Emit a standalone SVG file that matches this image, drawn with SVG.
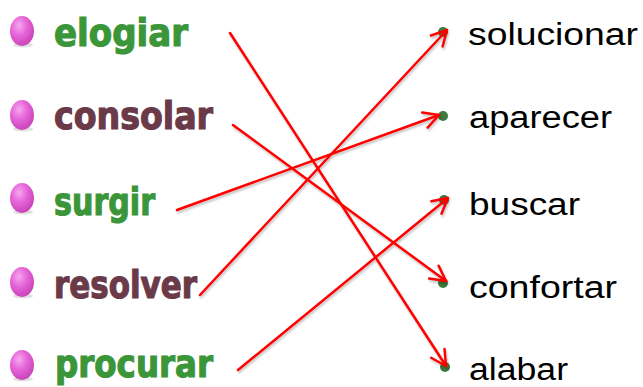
<svg xmlns="http://www.w3.org/2000/svg" width="643" height="387" viewBox="0 0 643 387">
  <defs>
    <radialGradient id="egg" cx="0.38" cy="0.32" r="0.75">
      <stop offset="0" stop-color="#f6a8ee"/>
      <stop offset="0.45" stop-color="#e565d8"/>
      <stop offset="1" stop-color="#c43fb4"/>
    </radialGradient>
    <marker id="arr" markerUnits="userSpaceOnUse" markerWidth="22" markerHeight="22" viewBox="0 0 22 22" refX="17" refY="11" orient="auto">
      <path d="M2,3 L17,11 L2,19" fill="none" stroke="#ff0000" stroke-width="2.5" stroke-linecap="round" stroke-linejoin="round"/>
    </marker>
    <filter id="sh" x="-10%" y="-10%" width="120%" height="120%">
      <feDropShadow dx="1" dy="2" stdDeviation="1.2" flood-color="#000" flood-opacity="0.25"/>
    </filter>
  </defs>
  <style>
    .egg { fill: url(#egg); }
    .eggsh { fill: #000; opacity: 0.12; }
    .lw { font-family: "DejaVu Sans", "Liberation Sans", sans-serif; font-weight: bold; font-size: 37px; stroke-width: 1.2px; }
    .g { fill: #3b963a; stroke: #3b963a; }
    .m { fill: #6b3a49; stroke: #6b3a49; }
    .rw { font-family: "Liberation Sans", Arial, sans-serif; font-size: 31px; fill: #000; }
    .dot { fill: #3d7a3c; }
    .ln { stroke: #ff0000; stroke-width: 2.5; fill: none; stroke-linecap: round; marker-end: url(#arr); }
  </style>
  <rect width="643" height="387" fill="#ffffff"/>

  <g id="left-elogiar">
    <ellipse class="eggsh" cx="23" cy="45" rx="10" ry="2.5"/>
    <ellipse class="egg" cx="22" cy="31" rx="12" ry="15"/>
    <text class="lw g" x="54" y="46" textLength="134" lengthAdjust="spacingAndGlyphs">elogiar</text>
  </g>
  <g id="left-consolar">
    <ellipse class="eggsh" cx="23" cy="129" rx="10" ry="2.5"/>
    <ellipse class="egg" cx="22" cy="115" rx="12" ry="15"/>
    <text class="lw m" x="54" y="129" textLength="159" lengthAdjust="spacingAndGlyphs">consolar</text>
  </g>
  <g id="left-surgir">
    <ellipse class="eggsh" cx="23" cy="212" rx="10" ry="2.5"/>
    <ellipse class="egg" cx="22" cy="198" rx="12" ry="15"/>
    <text class="lw g" x="54" y="215" textLength="101" lengthAdjust="spacingAndGlyphs">surgir</text>
  </g>
  <g id="left-resolver">
    <ellipse class="eggsh" cx="23" cy="296" rx="10" ry="2.5"/>
    <ellipse class="egg" cx="22" cy="282" rx="12" ry="15"/>
    <text class="lw m" x="54" y="298" textLength="143" lengthAdjust="spacingAndGlyphs">resolver</text>
  </g>
  <g id="left-procurar">
    <ellipse class="eggsh" cx="23" cy="379" rx="10" ry="2.5"/>
    <ellipse class="egg" cx="22" cy="365" rx="12" ry="15"/>
    <text class="lw g" x="55" y="377" textLength="158" lengthAdjust="spacingAndGlyphs">procurar</text>
  </g>

  <g id="right-solucionar">
    <circle class="dot" cx="443" cy="32" r="5"/>
    <text class="rw" x="468" y="45" textLength="170" lengthAdjust="spacingAndGlyphs">solucionar</text>
  </g>
  <g id="right-aparecer">
    <circle class="dot" cx="443" cy="116" r="5"/>
    <text class="rw" x="469" y="128" textLength="143" lengthAdjust="spacingAndGlyphs">aparecer</text>
  </g>
  <g id="right-buscar">
    <circle class="dot" cx="444" cy="200" r="5"/>
    <text class="rw" x="469" y="215" textLength="111" lengthAdjust="spacingAndGlyphs">buscar</text>
  </g>
  <g id="right-confortar">
    <circle class="dot" cx="443" cy="283" r="5"/>
    <text class="rw" x="469" y="298" textLength="148" lengthAdjust="spacingAndGlyphs">confortar</text>
  </g>
  <g id="right-alabar">
    <circle class="dot" cx="445" cy="367" r="5"/>
    <text class="rw" x="469" y="380" textLength="99" lengthAdjust="spacingAndGlyphs">alabar</text>
  </g>

  <g id="connectors" filter="url(#sh)">
    <line class="ln" x1="230" y1="33" x2="446" y2="366"/>
    <line class="ln" x1="233" y1="125" x2="446" y2="281"/>
    <line class="ln" x1="177" y1="210" x2="439" y2="115"/>
    <line class="ln" x1="200" y1="295" x2="447" y2="30"/>
    <line class="ln" x1="238" y1="370" x2="448" y2="198"/>
  </g>
</svg>
